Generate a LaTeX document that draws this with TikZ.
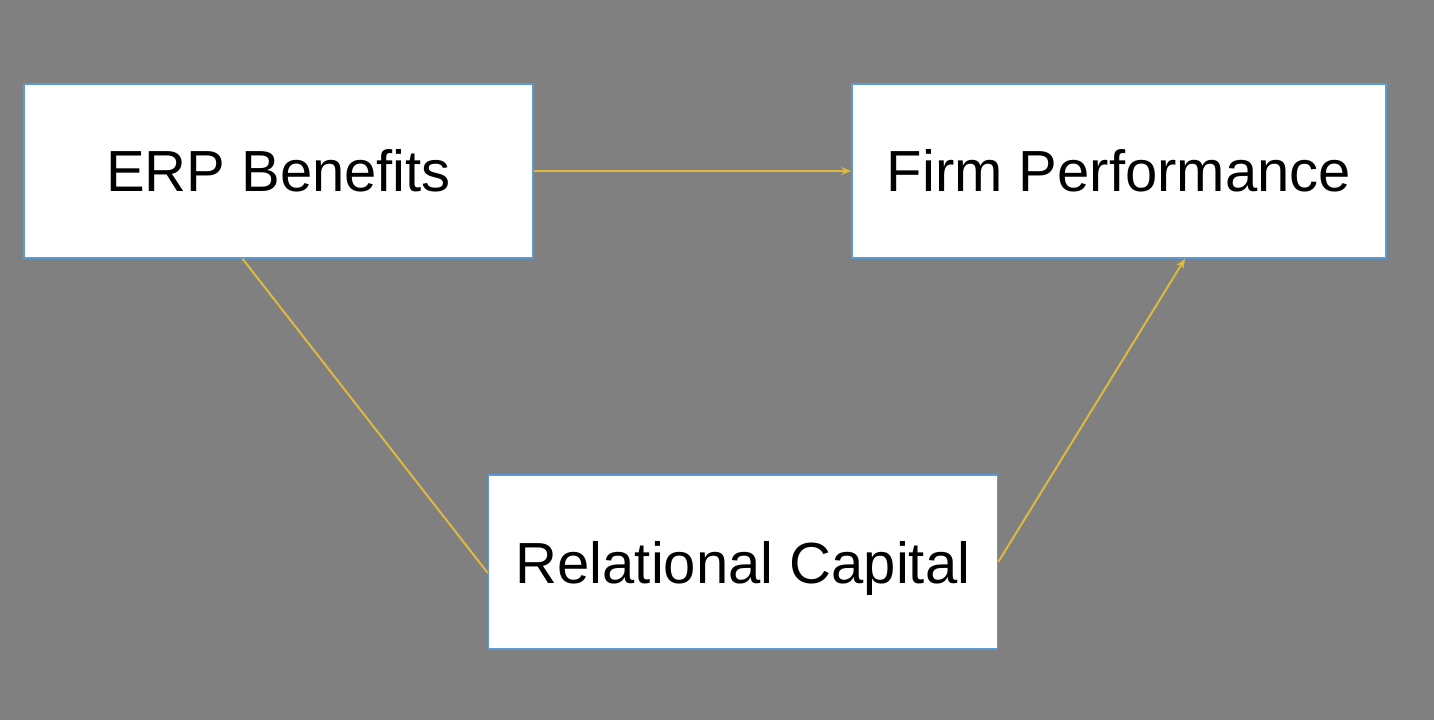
\documentclass[tikz,border=0pt]{standalone}
\usepackage{fontspec}
\setmainfont{Liberation Sans}
\usetikzlibrary{arrows.meta}
\definecolor{bg}{HTML}{808080}
\definecolor{bord}{HTML}{5B9BD5}
\definecolor{link}{HTML}{DDB941}
\begin{document}
\begin{tikzpicture}[x=1pt,y=-1pt,
  box/.style={draw=bord,line width=1.5pt,fill=white,minimum width=509pt,minimum height=174pt,inner sep=0pt,font=\fontsize{58}{69}\selectfont},
  conn/.style={draw=link,line width=2pt},
  arr/.style={conn,-{Stealth[length=10pt,width=8pt]}}]
\fill[bg] (0,0) rectangle (1434,720);
\useasboundingbox (0,0) rectangle (1434,720);
\node[box] (erp) at (278.5,171) {ERP Benefits};
\node[box,minimum width=534pt] (firm) at (1119,171) {Firm Performance};
\node[box] (rel) at (743,562) {\raisebox{-6pt}[42pt][12pt]{Relational Capital}};
\draw[arr] (erp.east) -- (firm.west);
\draw[conn] ([xshift=-36pt]erp.south) -- ([yshift=-11pt]rel.west);
\draw[arr] (rel.east) -- ([xshift=66pt]firm.south);
\end{tikzpicture}
\end{document}
